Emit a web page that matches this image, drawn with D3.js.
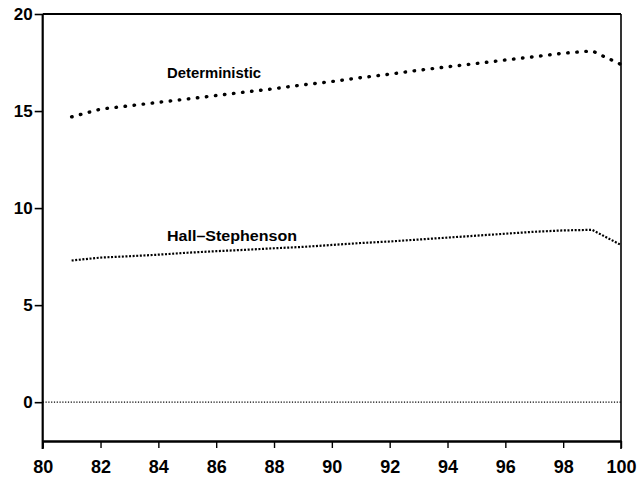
<!DOCTYPE html>
<html><head><meta charset="utf-8">
<script src="https://cdn.jsdelivr.net/npm/d3@7"></script>
<style>body{margin:0;background:#fff}svg{display:block}</style>
</head><body>
<svg id="c" width="640" height="479"></svg>
<script>
const years = [81,82,83,84,85,86,87,88,89,90,91,92,93,94,95,96,97,98,99,100];
const deterministic = [14.7,15.1,15.27,15.45,15.62,15.8,15.98,16.15,16.35,16.52,16.72,16.9,17.1,17.28,17.45,17.63,17.8,17.98,18.1,17.4];
const hallStephenson = [7.3,7.45,7.52,7.6,7.7,7.78,7.85,7.93,8.0,8.1,8.2,8.28,8.38,8.48,8.58,8.68,8.78,8.85,8.88,8.1];
const zeroLine = [0,0];
const zeroYears = [80,100];
const xTicks = [80,82,84,86,88,90,92,94,96,98,100];
const yTicks = [0,5,10,15,20];
const labels = ["Deterministic","Hall\u2013Stephenson"];

const svg = d3.select("#c");
const x = d3.scaleLinear().domain([80,100]).range([42.7,621]);
const y = d3.scaleLinear().domain([-2,20]).range([441,14]);
const font = "'Liberation Sans', Arial, sans-serif";

// frame
svg.append("line").attr("x1",x(80)).attr("x2",x(100)).attr("y1",y(20)).attr("y2",y(20)).attr("stroke","#000").attr("stroke-width",2.2);
svg.append("line").attr("x1",x(100)).attr("x2",x(100)).attr("y1",y(20)).attr("y2",y(-2)+8).attr("stroke","#000").attr("stroke-width",1.6);

// y axis
const ya = svg.append("g").attr("transform",`translate(${x(80)},0)`)
  .call(d3.axisLeft(y).tickValues(yTicks).tickSize(8).tickSizeOuter(0).tickFormat(d3.format("d")));
ya.select(".domain").attr("stroke-width",2.2).attr("d",`M0,${y(20)}V${y(-2)+8}`);
ya.selectAll(".tick line").attr("stroke-width",1.6);
ya.selectAll(".tick text").attr("font-family",font).attr("font-size",17).attr("font-weight","bold").attr("x",-10);

// x axis
const xa = svg.append("g").attr("transform",`translate(0,${y(-2)})`)
  .call(d3.axisBottom(x).tickValues(xTicks).tickSize(7).tickSizeOuter(0).tickFormat(d3.format("d")));
xa.select(".domain").attr("stroke-width",2.6);
xa.selectAll(".tick line").attr("stroke-width",1.4);
xa.selectAll(".tick text").attr("font-family",font).attr("font-size",18).attr("font-weight","bold").attr("y",19);
svg.selectAll(".domain, .tick line").attr("stroke","#000");
svg.selectAll(".tick text").attr("fill","#000");

const line = d3.line().x(d=>x(d[0])).y(d=>y(d[1]));

// zero line
svg.append("path").datum(zeroYears.map((d,i)=>[d,zeroLine[i]]))
  .attr("d",line).attr("fill","none").attr("stroke","#000").attr("stroke-width",1.2).attr("stroke-dasharray","1.2,1.6");

// Hall-Stephenson
svg.append("path").datum(years.map((d,i)=>[d,hallStephenson[i]]))
  .attr("d",line).attr("fill","none").attr("stroke","#000").attr("stroke-width",2.2).attr("stroke-dasharray","2,1.6");

// Deterministic
svg.append("path").datum(years.map((d,i)=>[d,deterministic[i]]))
  .attr("d",line).attr("fill","none").attr("stroke","#000").attr("stroke-width",3.4).attr("stroke-linecap","round").attr("stroke-dasharray","0.5,8.6");

svg.append("text").attr("x",x(84.3)).attr("y",y(16.7)).text(labels[0])
  .attr("font-family",font).attr("font-size",14).attr("font-weight","bold").attr("textLength",94).attr("lengthAdjust","spacingAndGlyphs");
svg.append("text").attr("x",x(84.3)).attr("y",y(8.3)).text(labels[1])
  .attr("font-family",font).attr("font-size",14).attr("font-weight","bold").attr("textLength",130).attr("lengthAdjust","spacingAndGlyphs");
</script>
</body></html>
